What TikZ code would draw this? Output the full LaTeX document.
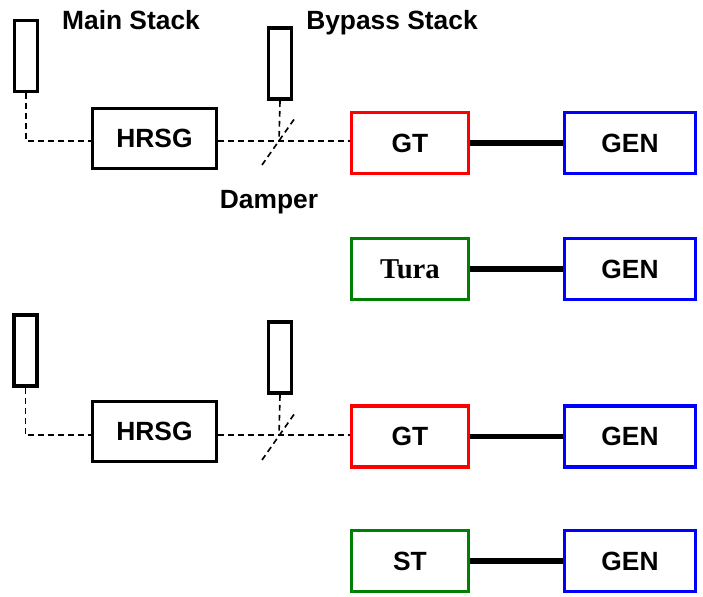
\documentclass[tikz,border=0pt]{standalone}
\usepackage{fontspec}
\setmainfont{Liberation Sans}
\newfontfamily\serifbf{Liberation Serif}
\usepackage{tikz}

\definecolor{gtred}{RGB}{255,0,0}
\definecolor{stgreen}{RGB}{0,128,0}
\definecolor{genblue}{RGB}{0,0,255}

\begin{document}
\begin{tikzpicture}[x=0.03cm, y=-0.03cm,
    every node/.style={draw, line width=3pt, inner sep=0pt, font=\fontsize{22.5}{25}\selectfont\bfseries},
    stack/.style={minimum width=0.7cm, minimum height=2.14cm},
    hrsgbox/.style={minimum width=3.73cm, minimum height=1.81cm},
    unitbox/.style={minimum width=3.52cm, minimum height=1.84cm},
    genbox/.style={draw=genblue, minimum width=3.94cm, minimum height=1.84cm},
    label/.style={draw=none, anchor=base},
    gas/.style={line width=1.4pt, dash pattern=on 5pt off 3.5pt},
    shaft/.style={line width=4.6pt}]
     \useasboundingbox (0,0) rectangle (703,597);

     % first train
     \node[stack] (ms1) at (26, 56) {};
     \node[hrsgbox] (hrsg1) at (154.5, 138.5) {HRSG};
     \node[stack] (bs1) at (280, 63.5) {};
     \node[unitbox, draw=gtred] (gt1) at (410, 143) {GT};
     \node[genbox] (gen1) at (630, 143) {GEN};
     \node[label] (mslbl) at (131, 30) {Main Stack};
     \node[label] (bslbl) at (392, 30) {Bypass Stack};
     \node[label] (dmplbl) at (269, 209) {Damper};
     \coordinate (j1) at (279, 141);
     \coordinate (d1a) at (262, 165);
     \coordinate (d1b) at (295, 118);

     \draw[gas] (ms1.south) -- (ms1.south |- j1) -- (j1 -| hrsg1.west);
     \draw[gas] (hrsg1.east |- j1) -- (j1 -| gt1.west);
     \draw[gas] (bs1.south) -- (j1);
     \draw[gas] (d1a) -- (d1b);
     \draw[shaft] (gt1) -- (gen1);

     % second unit
     \node[unitbox, draw=stgreen, font=\fontsize{24.5}{27}\serifbf\bfseries] (tura) at (410, 269) {Tura};
     \node[genbox] (gen2) at (630, 269) {GEN};
     \draw[shaft] (tura) -- (gen2);

     % second train
     \node[stack] (ms2) at (25.5, 350.5) {};
     \node[hrsgbox] (hrsg2) at (154.5, 431.5) {HRSG};
     \node[stack] (bs2) at (280, 357.5) {};
     \node[unitbox, draw=gtred] (gt2) at (410, 436.5) {GT};
     \node[genbox] (gen3) at (630, 436.5) {GEN};
     \coordinate (j2) at (279, 435);
     \coordinate (d2a) at (262, 460);
     \coordinate (d2b) at (295, 413);

     \draw[gas] (ms2.south) -- (ms2.south |- j2) -- (j2 -| hrsg2.west);
     \draw[gas] (hrsg2.east |- j2) -- (j2 -| gt2.west);
     \draw[gas] (bs2.south) -- (j2);
     \draw[gas] (d2a) -- (d2b);
     \draw[shaft] (gt2) -- (gen3);

     % steam turbine
     \node[unitbox, draw=stgreen] (st) at (410, 561) {ST};
     \node[genbox] (gen4) at (630, 561) {GEN};
     \draw[shaft] (st) -- (gen4);
\end{tikzpicture}
\end{document}
